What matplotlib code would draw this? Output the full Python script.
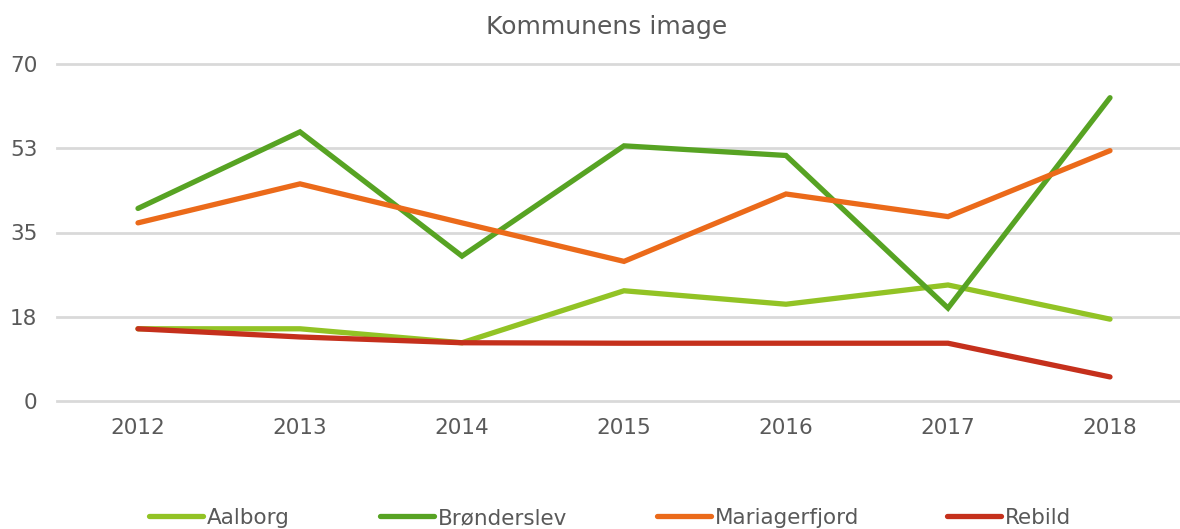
import matplotlib.pyplot as plt
from matplotlib.lines import Line2D

years = ["2012", "2013", "2014", "2015", "2016", "2017", "2018"]
aalborg = [15.0, 15.0, 12.1, 22.9, 20.1, 24.1, 17.0]
bronderslev = [40.0, 55.9, 30.1, 53.0, 51.0, 19.3, 63.0]
mariagerfjord = [37.0, 45.1, 37.0, 29.0, 43.0, 38.3, 52.0]
rebild = [15.0, 13.3, 12.1, 12.0, 12.0, 12.0, 5.0]

yticks = [0, 17.5, 35, 52.5, 70]
ytick_labels = ["0", "18", "35", "53", "70"]

series = [
    ("Aalborg", aalborg, "#92C325"),
    ("Brønderslev", bronderslev, "#57A323"),
    ("Mariagerfjord", mariagerfjord, "#EB6A1A"),
    ("Rebild", rebild, "#C5301C"),
]
# left edge of each legend entry (pixels)
legend_x = [147, 378, 655, 945]

txt = "#595959"
W, H = 1180, 529
plt.rcParams['font.family'] = ['DejaVu Sans Condensed', 'DejaVu Sans']

fig = plt.figure(figsize=(W / 100, H / 100), dpi=100)
ax = fig.add_axes([57 / W, 1 - 401 / H, 1134 / W, 337 / H])

x = range(len(years))
for name, vals, col in series:
    ax.plot(x, vals, color=col, lw=3.8, solid_capstyle='round',
            solid_joinstyle='miter', label=name, zorder=3)

ax.set_xlim(-0.5, len(years) - 0.5)
ax.set_ylim(0, 70)
for yv in yticks:
    ax.axhline(yv, color='#D9D9D9', lw=2, clip_on=False, zorder=1)
ax.set_yticks(yticks)
ax.set_yticklabels(ytick_labels)
ax.set_xticks(list(x))
ax.set_xticklabels(years)
ax.tick_params(length=0, labelsize=15.5, colors=txt)
ax.tick_params(axis='y', pad=14)
ax.tick_params(axis='x', pad=12)
for s in ax.spines.values():
    s.set_visible(False)

fig.text(607 / W, 1 - 27 / H, "Kommunens image", ha='center', va='center',
         fontsize=18, color=txt)

# legend drawn by hand so that each entry sits where it does in the original
ly = 1 - 516 / H
for (name, vals, col), lx in zip(series, legend_x):
    fig.add_artist(Line2D([(lx + 2) / W, (lx + 56) / W], [ly, ly], color=col,
                          lw=3.8, solid_capstyle='round', transform=fig.transFigure))
    fig.text((lx + 60) / W, ly, name, ha='left', va='center_baseline',
             fontsize=15.5, color=txt)

fig.savefig("out.png", dpi=100)
